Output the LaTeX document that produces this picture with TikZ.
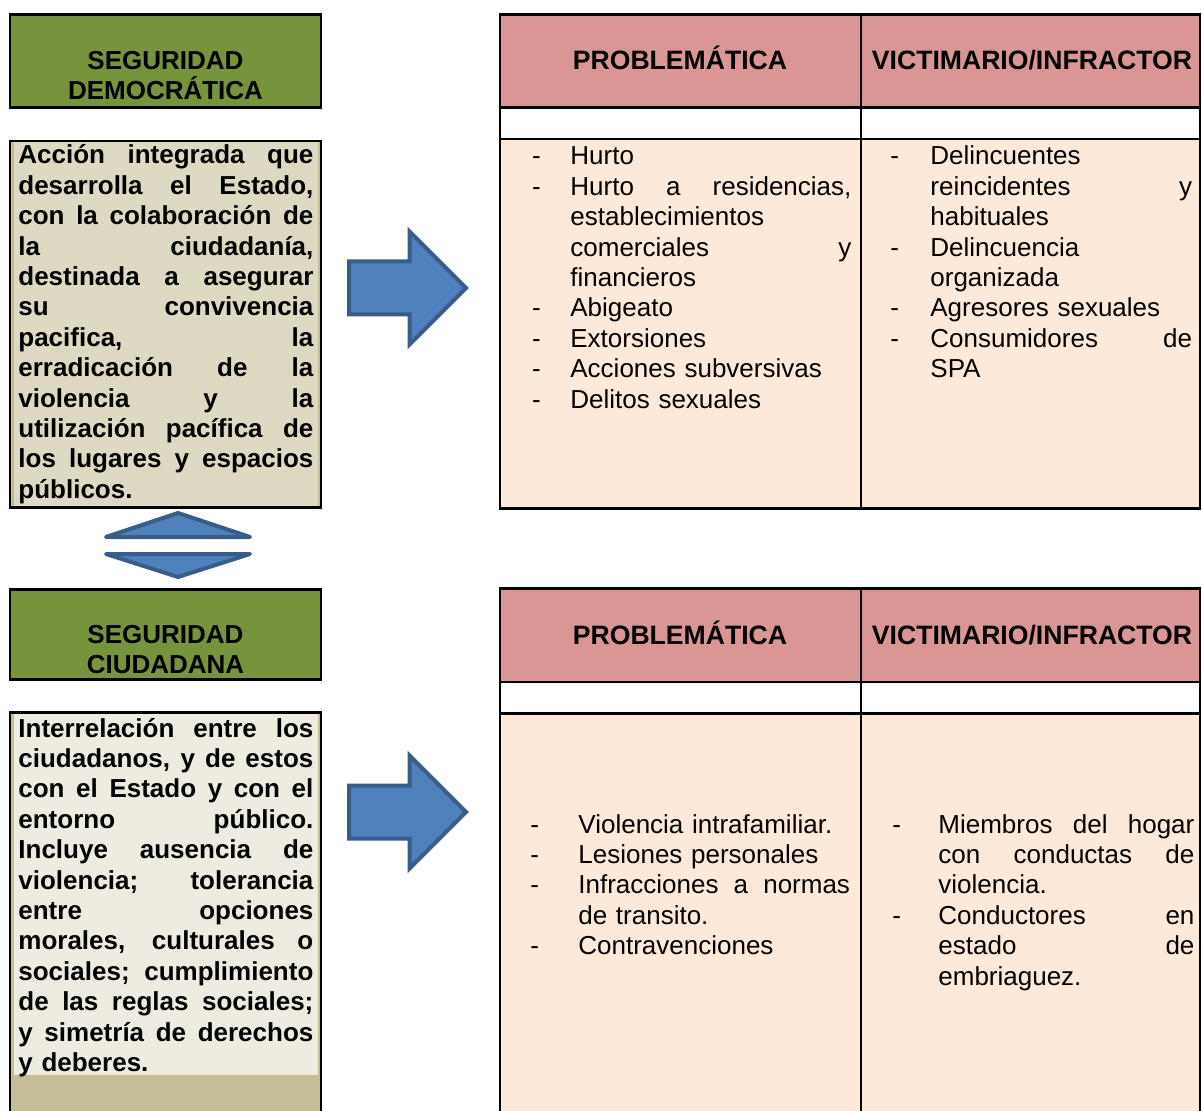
\documentclass[tikz,border=0pt]{standalone}
\usepackage{fontspec}
\setmainfont{Liberation Sans}
\usetikzlibrary{positioning}

\definecolor{verdeOliva}{HTML}{77933C}
\definecolor{arena}{HTML}{DDD9C3}
\definecolor{arenaOscura}{HTML}{C4BD97}
\definecolor{crema}{HTML}{EEECE1}
\definecolor{rosaViejo}{HTML}{D99694}
\definecolor{durazno}{HTML}{FDE9D9}
\definecolor{azulFlecha}{HTML}{4F81BD}
\definecolor{azulBorde}{HTML}{385D8A}

% lineas de texto justificadas a mano
\newlength{\sangria}
\newlength{\ancho}
\newcommand{\justa}[1]{\makebox[\ancho][s]{\spaceskip=0.278em plus 1fil\relax #1}}
\newcommand{\lineaj}[1]{\noindent\strut\justa{#1}\par}
\newcommand{\lineau}[1]{\noindent\strut#1\par}
\newcommand{\guionj}[1]{\noindent\strut\llap{\makebox[\sangria][l]{-}}\justa{#1}\par}
\newcommand{\guionu}[1]{\noindent\strut\llap{\makebox[\sangria][l]{-}}#1\par}

\begin{document}
\begin{tikzpicture}[
    x=0.5pt, y=-0.5pt,
    borde/.style={draw=black, line width=1.25pt},
    flecha/.style={draw=azulBorde, fill=azulFlecha, line width=2pt,
      line join=miter},
    triangulo/.style={draw=azulBorde, fill=azulFlecha, line width=2pt,
      line join=round},
    titulo/.style={font=\bfseries\fontsize{13pt}{15pt}\selectfont,
      text width=150pt, align=center, inner sep=0pt, anchor=base},
    definicion/.style={font=\bfseries\fontsize{13pt}{15.2pt}\selectfont,
      text width=147.5pt, inner sep=0pt, anchor=base west},
    lista/.style={font=\fontsize{13pt}{15.2pt}\selectfont,
      inner sep=0pt, anchor=base west},
    encabezado/.style={font=\bfseries\fontsize{13.3pt}{15pt}\selectfont,
      inner sep=0pt, anchor=base}
    ]

\useasboundingbox (0,0) rectangle (1202,1111);
\clip (0,0) rectangle (1202,1111);

\newcommand{\izq}{10}
\newcommand{\der}{321}
\newcommand{\tabIzq}{500}
\newcommand{\tabMed}{861}
\newcommand{\tabDer}{1200}

% cajas de la izquierda
\draw[borde, fill=verdeOliva] (\izq,14.5) rectangle (\der,107.5);
\fill[arenaOscura] (\izq,141) rectangle (\der,507.5);
\fill[arena] (13.5,142) rectangle (317.5,506.5);
\draw[borde] (\izq,141) rectangle (\der,507.5);

\draw[borde, fill=verdeOliva] (\izq,589.5) rectangle (\der,679.5);
\fill[arenaOscura] (\izq,712.5) rectangle (\der,1130);
\fill[crema] (14,713.5) rectangle (318,1075);
\draw[borde] (\izq,712.5) rectangle (\der,1130);

% tablas
\fill[rosaViejo] (\tabIzq,14.5) rectangle (\tabDer,107.5);
\fill[durazno] (\tabIzq,139) rectangle (\tabDer,508.5);
\draw[borde] (\tabIzq,14.5) rectangle (\tabDer,508.5);
\draw[borde] (\tabIzq,107.5) -- (\tabDer,107.5);
\draw[borde] (\tabIzq,139) -- (\tabDer,139);
\draw[borde] (\tabMed,14.5) -- (\tabMed,508.5);

\fill[rosaViejo] (\tabIzq,588.5) rectangle (\tabDer,682);
\fill[durazno] (\tabIzq,713.5) rectangle (\tabDer,1130);
\draw[borde] (\tabIzq,588.5) rectangle (\tabDer,1130);
\draw[borde] (\tabIzq,682) -- (\tabDer,682);
\draw[borde] (\tabIzq,713.5) -- (\tabDer,713.5);
\draw[borde] (\tabMed,588.5) -- (\tabMed,1130);

% flechas
\coordinate (flechaDem) at (349,288);
\coordinate (flechaCiu) at (349,812);
\draw[flecha] (flechaDem) ++(0,-26.5) -- ++(60.5,0) -- ++(0,-30)
  -- ++(56.5,56.5) -- ++(-56.5,56.5) -- ++(0,-30) -- ++(-60.5,0) -- cycle;
\draw[flecha] (flechaCiu) ++(0,-26.5) -- ++(60.5,0) -- ++(0,-30)
  -- ++(56.5,56.5) -- ++(-56.5,56.5) -- ++(0,-30) -- ++(-60.5,0) -- cycle;
\draw[triangulo] (178,513) -- (250,537) -- (106,537) -- cycle;
\draw[triangulo] (106,554) -- (250,554) -- (178,577) -- cycle;

% textos
\node[titulo] (tituloDem) at (165.5,70) {SEGURIDAD\\DEMOCRÁTICA};
\node[titulo] (tituloCiu) at (165.5,643) {SEGURIDAD\\CIUDADANA};

\node[definicion] (defDem) at (18,164) {%
  \setlength{\ancho}{147.5pt}%
  \lineaj{Acción integrada que}
  \lineaj{desarrolla el Estado,}
  \lineaj{con la colaboración de}
  \lineaj{la ciudadanía,}
  \lineaj{destinada a asegurar}
  \lineaj{su convivencia}
  \lineaj{pacifica, la}
  \lineaj{erradicación de la}
  \lineaj{violencia y la}
  \lineaj{utilización pacífica de}
  \lineaj{los lugares y espacios}
  \lineau{públicos.}};

\node[definicion] (defCiu) at (18,737) {%
  \setlength{\ancho}{147.5pt}%
  \lineaj{Interrelación entre los}
  \lineaj{ciudadanos, y de estos}
  \lineaj{con el Estado y con el}
  \lineaj{entorno público.}
  \lineaj{Incluye ausencia de}
  \lineaj{violencia; tolerancia}
  \lineaj{entre opciones}
  \lineaj{morales, culturales o}
  \lineaj{sociales; cumplimiento}
  \lineaj{de las reglas sociales;}
  \lineaj{y simetría de derechos}
  \lineau{y deberes.}};

\node[encabezado] (probDem) at (680,70) {PROBLEMÁTICA};
\node[encabezado] (victDem) at (1032,70) {VICTIMARIO/INFRACTOR};
\node[encabezado] (probCiu) at (680,644) {PROBLEMÁTICA};
\node[encabezado] (victCiu) at (1032,644) {VICTIMARIO/INFRACTOR};

\node[lista, text width=140.5pt] (listaProbDem) at (570,165) {%
  \setlength{\ancho}{140.5pt}\setlength{\sangria}{19.2pt}%
  \guionu{Hurto}
  \guionj{Hurto a residencias,}
  \lineau{establecimientos}
  \lineaj{comerciales y}
  \lineau{financieros}
  \guionu{Abigeato}
  \guionu{Extorsiones}
  \guionu{Acciones subversivas}
  \guionu{Delitos sexuales}};

\node[lista, text width=130.8pt] (listaVictDem) at (930,165) {%
  \setlength{\ancho}{130.8pt}\setlength{\sangria}{20pt}%
  \guionu{Delincuentes}
  \lineaj{reincidentes y}
  \lineau{habituales}
  \guionu{Delincuencia}
  \lineau{organizada}
  \guionu{Agresores sexuales}
  \guionj{Consumidores de}
  \lineau{SPA}};

\node[lista, text width=135.8pt] (listaProbCiu) at (578,833) {%
  \setlength{\ancho}{135.8pt}\setlength{\sangria}{24pt}%
  \guionu{Violencia intrafamiliar.}
  \guionu{Lesiones personales}
  \guionj{Infracciones a normas}
  \lineau{de transito.}
  \guionu{Contravenciones}};

\node[lista, text width=128pt] (listaVictCiu) at (938,833) {%
  \setlength{\ancho}{128pt}\setlength{\sangria}{23pt}%
  \guionj{Miembros del hogar}
  \lineaj{con conductas de}
  \lineau{violencia.}
  \guionj{Conductores en}
  \lineaj{estado de}
  \lineau{embriaguez.}};

\end{tikzpicture}
\end{document}
